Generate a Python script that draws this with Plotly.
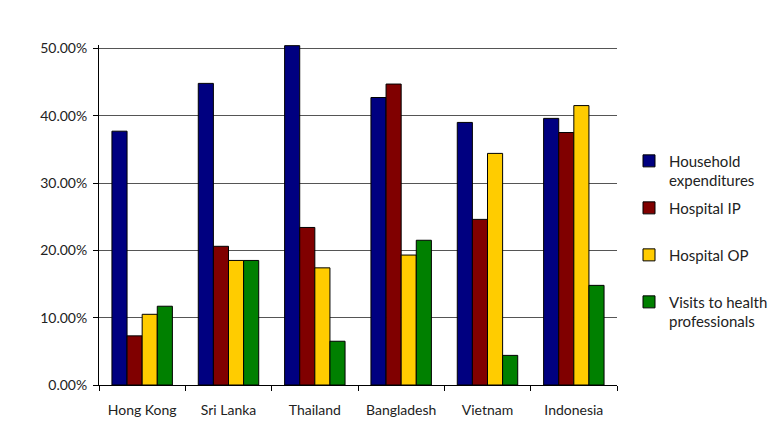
import plotly.graph_objects as go

categories = ["Hong Kong", "Sri Lanka", "Thailand", "Bangladesh", "Vietnam", "Indonesia"]
household = [37.7, 44.8, 50.4, 42.7, 39.0, 39.6]
hospital_ip = [7.3, 20.6, 23.4, 44.7, 24.6, 37.5]
hospital_op = [10.5, 18.5, 17.4, 19.3, 34.4, 41.5]
visits = [11.7, 18.5, 6.5, 21.5, 4.4, 14.8]

series = [
    ("Household<br>expenditures", household, "#000080"),
    ("Hospital IP<br> ", hospital_ip, "#800000"),
    ("Hospital OP<br> ", hospital_op, "#FFCC00"),
    ("Visits to health<br>professionals", visits, "#008000"),
]

fig = go.Figure()
for i, (name, vals, color) in enumerate(series):
    fig.add_trace(go.Bar(
        x=categories, y=[v / 100 for v in vals], name=name,
        marker=dict(color=color, line=dict(color="#000000", width=1)),
        legendgroup=str(i),
    ))

font = "Lato, 'Open Sans', sans-serif"
fig.update_layout(
    width=773, height=423,
    margin=dict(l=99, r=156, t=45, b=38, autoexpand=False),
    paper_bgcolor="white", plot_bgcolor="white",
    barmode="group", bargap=0.3, bargroupgap=0,
    font=dict(family=font, size=14, color="#222222"),
    showlegend=True,
    legend=dict(x=1.0, xref="container", xanchor="right", y=0.707, yanchor="top",
                tracegroupgap=5, font=dict(size=15), itemwidth=30, valign="top",
                bgcolor="rgba(0,0,0,0)"),
    xaxis=dict(showline=True, linecolor="black", linewidth=1,
               ticks="outside", tickson="boundaries", ticklen=5, tickcolor="black",
               showgrid=False, ticklabelstandoff=12, automargin=False),
    yaxis=dict(range=[0, 0.505], tickvals=[0, 0.1, 0.2, 0.3, 0.4, 0.5],
               tickformat=".2%", showline=True, linecolor="black", linewidth=1,
               ticks="outside", ticklen=5, tickcolor="black", ticklabelstandoff=3,
               showgrid=True, gridcolor="#555555", gridwidth=1, zeroline=False,
               automargin=False),
)

fig.write_html("out.html")
